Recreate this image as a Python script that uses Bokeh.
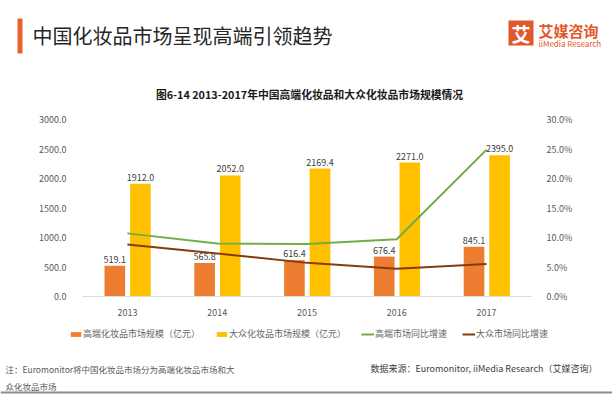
from bokeh.plotting import figure
from bokeh.models import (ColumnDataSource, Range1d, LinearAxis, FixedTicker,
                          NumeralTickFormatter, Label, Legend, LegendItem)
from bokeh.transform import dodge
from bokeh.core.properties import value
from bokeh.embed import file_html
from bokeh.resources import INLINE

# ---- data ----
years = [2013, 2014, 2015, 2016, 2017]
high_end = [519.1, 565.8, 616.4, 676.4, 845.1]
mass = [1912.0, 2052.0, 2169.4, 2271.0, 2395.0]
high_growth = [0.107, 0.090, 0.089, 0.097, 0.249]
mass_growth = [0.088, 0.073, 0.057, 0.047, 0.055]
left_ticks = [0, 500, 1000, 1500, 2000, 2500, 3000]
right_ticks = [0.0, 0.05, 0.10, 0.15, 0.20, 0.25, 0.30]
series_names = ["高端化妆品市场规模（亿元）", "大众化妆品市场规模（亿元）", "高端市场同比增速", "大众市场同比增速"]

FONT = "Noto Sans CJK SC"
C_HIGH = "#ED7D31"
C_MASS = "#FFC000"
C_HG = "#70AD47"
C_MG = "#843C0C"
C_BRAND = "#E2572B"
C_TICK = "#595959"

W, H = 612, 397
# plot area (in page pixels): left 82, right 531, top 119, bottom 296
FL, FR, FT, FB = 82, 531, 119, 296
PPX = (FR - FL) / 5.0
X_START = 2012.5 - FL / PPX
X_END = X_START + W / PPX
PPY = (FB - FT) / 3000.0
Y_START = -(H - FB) / PPY
Y_END = Y_START + H / PPY


def dx(px):  # page pixel -> data x
    return X_START + px / PPX


def dy(py):  # page pixel (from top) -> data y (left axis units)
    return Y_END - py / PPY


src = ColumnDataSource(dict(
    years=years, high=high_end, mass=mass, hg=high_growth, mg=mass_growth,
    high_lbl=[f"{v:.1f}" for v in high_end], mass_lbl=[f"{v:.1f}" for v in mass],
))

p = figure(x_range=Range1d(X_START, X_END), y_range=Range1d(Y_START, Y_END), width=W, height=H,
           output_backend="svg", toolbar_location=None, x_axis_location=None, y_axis_location=None,
           min_border=0, min_border_left=0, min_border_right=0, min_border_top=0, min_border_bottom=0)
p.outline_line_color = None
p.xgrid.visible = False
p.ygrid.visible = False
p.background_fill_color = "white"
p.border_fill_color = "white"

p.extra_y_ranges = {"pct": Range1d(Y_START / 10000.0, Y_END / 10000.0)}

lax = LinearAxis(ticker=FixedTicker(ticks=left_ticks), formatter=NumeralTickFormatter(format="0.0"),
                 fixed_location=2012.5)
rax = LinearAxis(y_range_name="pct", ticker=FixedTicker(ticks=right_ticks),
                 formatter=NumeralTickFormatter(format="0.0%"), fixed_location=2017.5)
xax = LinearAxis(ticker=FixedTicker(ticks=years), formatter=NumeralTickFormatter(format="0"),
                 fixed_location=0, bounds=(2012.5, 2017.5))
p.add_layout(lax, "left")
p.add_layout(rax, "right")
p.add_layout(xax, "below")
for ax in [lax, rax, xax]:
    ax.major_tick_line_color = None
    ax.minor_tick_line_color = None
    ax.major_label_text_font = FONT
    ax.major_label_text_font_size = "9px"
    ax.major_label_text_color = C_TICK
lax.axis_line_color = None
rax.axis_line_color = None
xax.axis_line_color = "#D9D9D9"
lax.major_label_standoff = 10
rax.major_label_standoff = 9
xax.major_label_standoff = 6

r_high = p.vbar(x=dodge("years", -0.14), top="high", width=0.23, source=src,
                fill_color=C_HIGH, line_color=None)
r_mass = p.vbar(x=dodge("years", 0.145), top="mass", width=0.23, source=src,
                fill_color=C_MASS, line_color=None)
p.text(x=dodge("years", -0.14), y="high", text="high_lbl", source=src,
       text_align="center", text_baseline="bottom", y_offset=-3, text_font=value(FONT),
       text_font_size="9px", text_color="#404040")
p.text(x=dodge("years", 0.145), y="mass", text="mass_lbl", source=src,
       text_align="center", text_baseline="bottom", y_offset=-3, text_font=value(FONT),
       text_font_size="9px", text_color="#404040")
r_hg = p.line(x="years", y="hg", source=src, y_range_name="pct", line_color=C_HG, line_width=2)
r_mg = p.line(x="years", y="mg", source=src, y_range_name="pct", line_color=C_MG, line_width=2)

legend = Legend(items=[LegendItem(label=series_names[0], renderers=[r_high]),
                       LegendItem(label=series_names[1], renderers=[r_mass]),
                       LegendItem(label=series_names[2], renderers=[r_hg]),
                       LegendItem(label=series_names[3], renderers=[r_mg])],
                orientation="horizontal", location=(69, H - 340),
                glyph_width=13, glyph_height=6, label_standoff=1, spacing=15,
                padding=0, margin=0, border_line_color=None, background_fill_alpha=0,
                label_text_font=FONT, label_text_font_size="9px", label_text_color="#666666",
                label_height=12)
p.add_layout(legend)

# decorative header / footer blocks
p.quad(left=[dx(17)], right=[dx(22)], top=[dy(18)], bottom=[dy(53)], fill_color="#E8622E", line_color=None)
p.quad(left=[dx(508)], right=[dx(533)], top=[dy(20)], bottom=[dy(45)], fill_color=C_BRAND, line_color=None)
p.quad(left=[dx(0)], right=[dx(W)], top=[dy(391)], bottom=[dy(393)], fill_color="#8C8C8C", line_color=None)


def lab(text, x, y, size, color, align="left", baseline="middle", style="normal"):
    p.add_layout(Label(text=text, x=dx(x), y=dy(y), text_font=FONT, text_font_size=size,
                       text_color=color, text_align=align, text_baseline=baseline,
                       text_font_style=style))


lab("中国化妆品市场呈现高端引领趋势", 32, 35, "20px", "#262626")
lab("艾", 520.5, 33, "19px", "white", align="center", style="bold")
lab("艾媒咨询", 538, 30, "15px", C_BRAND, style="bold")
lab("iiMedia Research", 538, 43, "8px", C_BRAND)
lab("图6-14 2013-2017年中国高端化妆品和大众化妆品市场规模情况", 309, 93, "10.8px", "#1a1a1a",
    align="center", style="bold")
lab("注：Euromonitor将中国化妆品市场分为高端化妆品市场和大", 5, 368, "8.5px", C_TICK)
lab("众化妆品市场", 5, 385, "8.5px", C_TICK)
lab("数据来源：Euromonitor, iiMedia Research（艾媒咨询）", 597, 368, "9px", "#404040", align="right")

open("out.html", "w").write(file_html(p, INLINE))
